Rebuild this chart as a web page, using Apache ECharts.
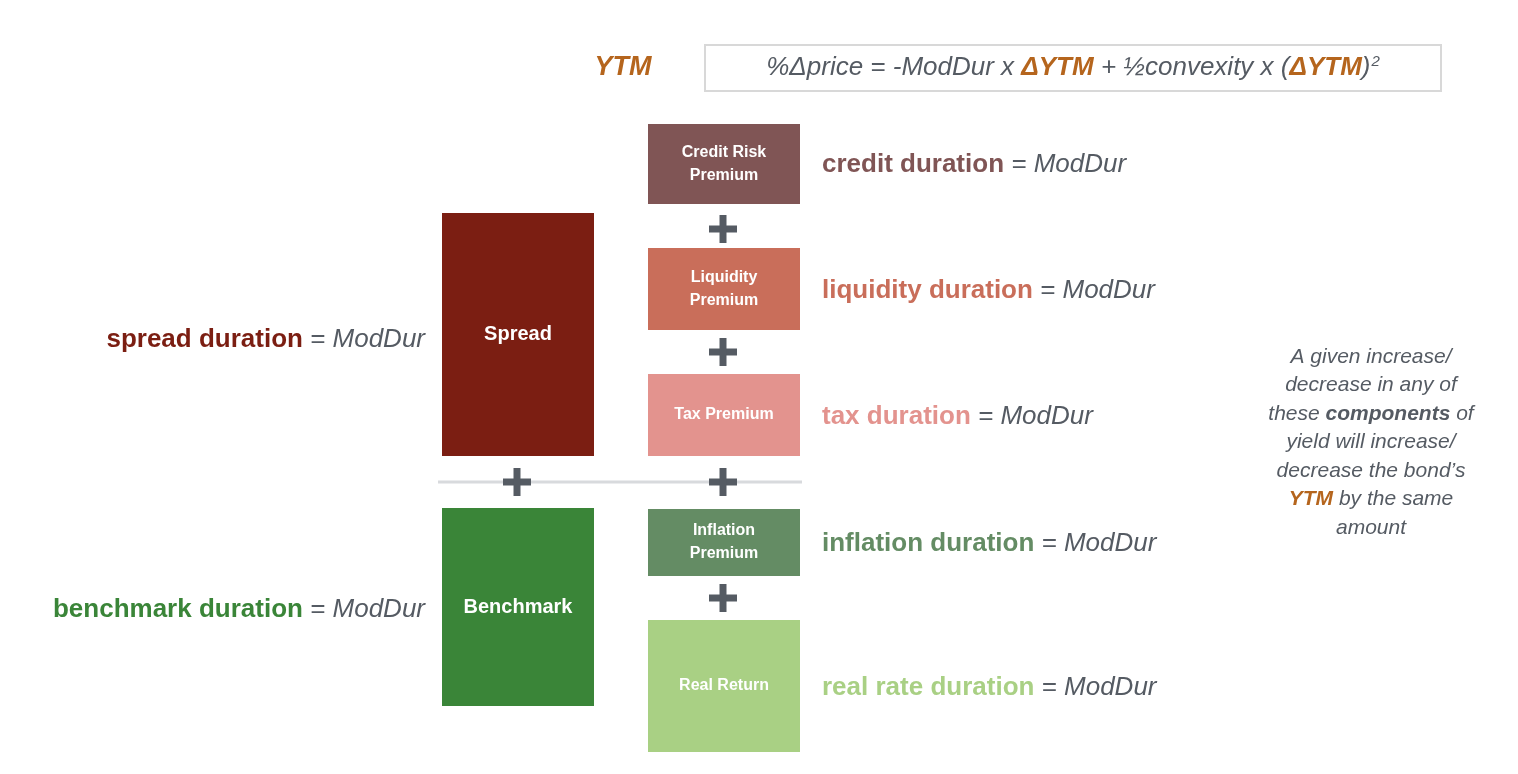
<!DOCTYPE html>
<html>
<head>
<meta charset="utf-8">
<script src="https://cdn.jsdelivr.net/npm/echarts@6/dist/echarts.min.js"></script>
<style>html,body{margin:0;padding:0;background:#fff}#main{width:1518px;height:774px}</style>
</head>
<body>
<div id="main"></div>
<script>
// yield building blocks: [name, x0, y0, x1, y1, colour]
const boxNames = ['Spread', 'Benchmark', 'Credit Risk\nPremium', 'Liquidity\nPremium', 'Tax Premium', 'Inflation\nPremium', 'Real Return'];
const boxRects = [[442, 213, 594, 456], [442, 508, 594, 706], [648, 124, 800, 204], [648, 248, 800, 330], [648, 374, 800, 456], [648, 509, 800, 576], [648, 620, 800, 752]];
const boxColors = ['#7b1e12', '#3a8538', '#805555', '#c96e5a', '#e3938e', '#648c64', '#a9d084'];
const boxFont = [20, 20, 16, 16, 16, 16, 16];

const plusPoints = [[723, 229], [723, 352], [517, 482], [723, 482], [723, 598]];

const durNames = ['credit duration', 'liquidity duration', 'tax duration', 'inflation duration', 'real rate duration', 'spread duration', 'benchmark duration'];
const durPoints = [[822, 165], [822, 291], [822, 417], [822, 544], [822, 688], [425, 340], [425, 610]];
const durColors = ['#805555', '#c96e5a', '#e3938e', '#648c64', '#a9d084', '#7b1e12', '#3a8538'];
const durAlign = ['left', 'left', 'left', 'left', 'left', 'right', 'right'];

const noteLines = ['A given increase/', 'decrease in any of', 'these {b|components} of', 'yield will increase/', 'decrease the bond\u2019s', '{o|YTM} by the same', 'amount'];

const FONT = '"Liberation Sans", Arial, sans-serif';
const GRAY = '#555b63';
const ORANGE = '#b5651d';

const chart = echarts.init(document.getElementById('main'));

chart.setOption({
  animation: false,
  grid: { left: 0, right: 0, top: 0, bottom: 0 },
  xAxis: { type: 'value', min: 0, max: 1518, show: false },
  yAxis: { type: 'value', min: 0, max: 774, inverse: true, show: false },
  series: [
    {
      type: 'custom',
      data: boxRects.map((r, i) => [r[0], r[1], r[2], r[3], i]),
      renderItem: function (params, api) {
        const i = api.value(4);
        const a = api.coord([api.value(0), api.value(1)]);
        const b = api.coord([api.value(2), api.value(3)]);
        return {
          type: 'rect',
          shape: { x: a[0], y: a[1], width: b[0] - a[0], height: b[1] - a[1] },
          style: { fill: boxColors[i] },
          textContent: {
            style: { text: boxNames[i], fill: '#fff', font: 'bold ' + boxFont[i] + 'px ' + FONT, align: 'center', lineHeight: 23 }
          },
          textConfig: { position: 'inside' }
        };
      }
    },
    {
      // separator line and formula frame
      type: 'custom',
      data: [[438, 482, 802, 482], [705, 45, 1441, 91]],
      renderItem: function (params, api) {
        const a = api.coord([api.value(0), api.value(1)]);
        const b = api.coord([api.value(2), api.value(3)]);
        if (params.dataIndex === 0) {
          return { type: 'line', shape: { x1: a[0], y1: a[1], x2: b[0], y2: b[1] }, style: { stroke: '#d8dadd', lineWidth: 3 } };
        }
        return { type: 'rect', shape: { x: a[0], y: a[1], width: b[0] - a[0], height: b[1] - a[1] }, style: { fill: '#fff', stroke: '#d8d8d8', lineWidth: 2 } };
      },
      z: 1
    },
    {
      type: 'custom',
      data: plusPoints,
      renderItem: function (params, api) {
        const c = api.coord([api.value(0), api.value(1)]);
        return {
          type: 'group',
          children: [
            { type: 'rect', shape: { x: c[0] - 14, y: c[1] - 3.5, width: 28, height: 7 }, style: { fill: GRAY } },
            { type: 'rect', shape: { x: c[0] - 3.5, y: c[1] - 14, width: 7, height: 28 }, style: { fill: GRAY } }
          ]
        };
      },
      z: 5
    },
    {
      type: 'custom',
      data: durPoints.map((p, i) => [p[0], p[1], i]),
      renderItem: function (params, api) {
        const i = api.value(2);
        const c = api.coord([api.value(0), api.value(1)]);
        return {
          type: 'text',
          x: c[0], y: c[1],
          style: {
            text: '{d|' + durNames[i] + '}{m| = ModDur}',
            align: durAlign[i], verticalAlign: 'middle',
            rich: {
              d: { font: 'bold 26px ' + FONT, fill: durColors[i] },
              m: { font: 'italic 26px ' + FONT, fill: GRAY }
            }
          }
        };
      }
    },
    {
      // formula + YTM label
      type: 'custom',
      data: [[1073, 68, 0], [623, 68, 1]],
      renderItem: function (params, api) {
        const c = api.coord([api.value(0), api.value(1)]);
        if (api.value(2) === 1) {
          return { type: 'text', x: c[0], y: c[1], style: { text: 'YTM', font: 'italic bold 27px ' + FONT, fill: ORANGE, align: 'center', verticalAlign: 'middle' } };
        }
        return {
          type: 'text', x: c[0], y: c[1], z2: 10,
          style: {
            text: '{t|%\u0394price = -ModDur x }{o|\u0394YTM}{t| + \u00bdconvexity x (}{o|\u0394YTM}{t|)}{s|2}',
            align: 'center', verticalAlign: 'middle',
            rich: {
              t: { font: 'italic 26px ' + FONT, fill: GRAY, height: 30 },
              o: { font: 'italic bold 26px ' + FONT, fill: ORANGE, height: 30 },
              s: { font: 'italic 15px ' + FONT, fill: GRAY, verticalAlign: 'top', height: 30, padding: [0, 0, 12, 1] }
            }
          }
        };
      },
      z: 3
    },
    {
      type: 'custom',
      data: noteLines.map((t, i) => [1371, 357 + i * 28.5, i]),
      renderItem: function (params, api) {
        const c = api.coord([api.value(0), api.value(1)]);
        const t = noteLines[api.value(2)];
        return {
          type: 'text', x: c[0], y: c[1],
          style: {
            text: t.replace(/^([^{]+)/, '{n|$1}').replace(/\}([^{}]+)$/, '}{n|$1}').replace(/\}([^{}]+)\{/g, '}{n|$1}{'),
            align: 'center', verticalAlign: 'middle',
            rich: {
              n: { font: 'italic 21px ' + FONT, fill: GRAY },
              b: { font: 'italic bold 21px ' + FONT, fill: GRAY },
              o: { font: 'italic bold 21px ' + FONT, fill: ORANGE }
            }
          }
        };
      }
    }
  ]
});
</script>
</body>
</html>
